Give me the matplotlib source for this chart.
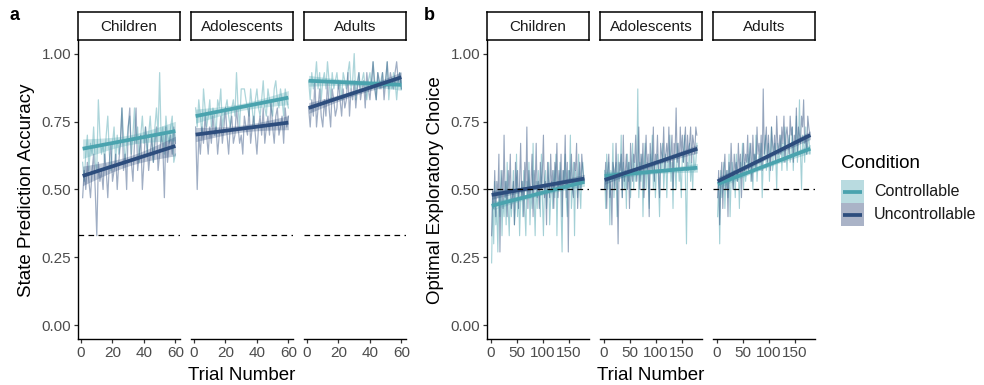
import numpy as np
import matplotlib
matplotlib.use("Agg")
import matplotlib.pyplot as plt
from matplotlib.patches import Rectangle

plt.rcParams['font.family'] = ['Liberation Sans', 'DejaVu Sans']

groups = ["Children", "Adolescents", "Adults"]
conditions = ["Controllable", "Uncontrollable"]

# ---------------- panel a: state prediction accuracy (trials 1..60) ----------------
a_children_ctrl = [0.60, 0.53, 0.63, 0.70, 0.57, 0.67, 0.63, 0.73, 0.60, 0.57, 0.83, 0.70, 0.63, 0.67, 0.60,
                   0.70, 0.77, 0.63, 0.57, 0.67, 0.73, 0.60, 0.70, 0.63, 0.67, 0.80, 0.70, 0.60, 0.67, 0.73,
                   0.77, 0.63, 0.70, 0.80, 0.67, 0.73, 0.60, 0.70, 0.77, 0.67, 0.73, 0.63, 0.70, 0.77, 0.67,
                   0.60, 0.73, 0.80, 0.70, 0.93, 0.67, 0.73, 0.63, 0.77, 0.70, 0.67, 0.73, 0.77, 0.60, 0.63]
a_children_unc = [0.47, 0.57, 0.50, 0.60, 0.53, 0.47, 0.57, 0.63, 0.50, 0.33, 0.60, 0.53, 0.57, 0.50, 0.63,
                  0.57, 0.47, 0.60, 0.67, 0.53, 0.57, 0.63, 0.50, 0.60, 0.67, 0.80, 0.57, 0.63, 0.50, 0.73,
                  0.80, 0.60, 0.53, 0.67, 0.80, 0.57, 0.63, 0.70, 0.50, 0.60, 0.73, 0.67, 0.57, 0.63, 0.70,
                  0.60, 0.67, 0.73, 0.57, 0.63, 0.70, 0.67, 0.47, 0.73, 0.60, 0.67, 0.70, 0.63, 0.73, 0.67]
a_adol_ctrl = [0.80, 0.73, 0.83, 0.77, 0.70, 0.87, 0.80, 0.73, 0.77, 0.83, 0.73, 0.80, 0.77, 0.70, 0.83,
               0.80, 0.87, 0.73, 0.77, 0.80, 0.83, 0.77, 0.73, 0.80, 0.83, 0.77, 0.93, 0.80, 0.73, 0.87,
               0.87, 0.87, 0.83, 0.80, 0.77, 0.87, 0.80, 0.73, 0.83, 0.87, 0.80, 0.77, 0.83, 0.90, 0.80,
               0.77, 0.87, 0.83, 0.80, 0.77, 0.87, 0.90, 0.83, 0.80, 0.87, 0.83, 0.77, 0.87, 0.83, 0.80]
a_adol_unc = [0.73, 0.50, 0.70, 0.63, 0.73, 0.67, 0.77, 0.70, 0.63, 0.73, 0.67, 0.77, 0.70, 0.73, 0.63,
              0.70, 0.77, 0.67, 0.73, 0.80, 0.70, 0.63, 0.73, 0.77, 0.67, 0.70, 0.80, 0.73, 0.67, 0.70,
              0.63, 0.77, 0.73, 0.70, 0.80, 0.67, 0.73, 0.77, 0.70, 0.63, 0.73, 0.77, 0.70, 0.80, 0.67,
              0.73, 0.77, 0.70, 0.83, 0.73, 0.67, 0.77, 0.80, 0.70, 0.73, 0.77, 0.67, 0.80, 0.73, 0.77]
a_adult_ctrl = [0.90, 0.83, 0.93, 0.87, 0.90, 0.97, 0.87, 0.93, 0.83, 0.90, 0.93, 0.87, 0.97, 0.90, 0.83,
                0.93, 0.87, 0.90, 0.93, 0.87, 0.90, 0.83, 0.93, 0.90, 0.87, 0.93, 0.97, 0.87, 0.90, 1.00,
                0.83, 0.90, 0.93, 0.87, 0.90, 0.93, 0.87, 0.83, 0.90, 0.93, 0.87, 0.97, 0.90, 0.83, 0.93,
                0.87, 0.90, 0.93, 0.87, 0.90, 0.97, 0.83, 0.90, 0.87, 0.93, 0.90, 0.83, 0.90, 0.93, 0.87]
a_adult_unc = [0.80, 0.73, 0.83, 0.77, 0.90, 0.73, 0.80, 0.87, 0.77, 0.73, 0.83, 0.77, 0.90, 0.80, 0.73,
               0.87, 0.83, 0.77, 0.80, 0.90, 0.83, 0.77, 0.87, 0.80, 0.83, 0.93, 0.77, 0.87, 0.83, 0.90,
               0.80, 0.87, 0.93, 0.83, 0.87, 0.90, 0.80, 0.93, 0.87, 0.83, 0.90, 0.97, 0.87, 0.83, 0.93,
               0.90, 0.87, 0.93, 0.83, 0.90, 0.97, 0.87, 0.93, 0.90, 0.87, 0.93, 0.97, 0.90, 0.93, 0.87]

# fitted linear trend (value at first trial, value at last trial) and CI half-width at centre
a_ctrl_fit = [(0.650, 0.715), (0.770, 0.838), (0.900, 0.885)]
a_unc_fit = [(0.550, 0.660), (0.702, 0.746), (0.800, 0.913)]
a_ctrl_ci = [0.018, 0.013, 0.010]
a_unc_ci = [0.018, 0.013, 0.010]

# ---------------- panel b: optimal exploratory choice (trials 1..180, every 2nd) ----------------
b_children_ctrl = [0.23, 0.47, 0.30, 0.53, 0.37, 0.43, 0.27, 0.50, 0.40, 0.57, 0.33, 0.47, 0.40, 0.53, 0.37,
                   0.60, 0.43, 0.33, 0.50, 0.40, 0.47, 0.57, 0.37, 0.43, 0.63, 0.40, 0.50, 0.33, 0.47, 0.53,
                   0.40, 0.57, 0.43, 0.33, 0.53, 0.47, 0.60, 0.37, 0.50, 0.43, 0.67, 0.47, 0.33, 0.53, 0.43,
                   0.57, 0.50, 0.40, 0.63, 0.47, 0.33, 0.53, 0.57, 0.43, 0.50, 0.60, 0.37, 0.47, 0.53, 0.43,
                   0.57, 0.47, 0.63, 0.33, 0.53, 0.50, 0.60, 0.43, 0.27, 0.57, 0.50, 0.63, 0.47, 0.40, 0.57,
                   0.53, 0.70, 0.43, 0.50, 0.60, 0.33, 0.57, 0.53, 0.47, 0.63, 0.50, 0.43, 0.57, 0.60, 0.53]
b_children_unc = [0.33, 0.50, 0.43, 0.57, 0.40, 0.53, 0.47, 0.63, 0.27, 0.50, 0.57, 0.43, 0.70, 0.47, 0.53,
                  0.40, 0.57, 0.50, 0.63, 0.43, 0.47, 0.53, 0.37, 0.60, 0.50, 0.57, 0.43, 0.53, 0.67, 0.47,
                  0.53, 0.40, 0.60, 0.50, 0.73, 0.43, 0.57, 0.47, 0.53, 0.63, 0.40, 0.57, 0.50, 0.67, 0.47,
                  0.53, 0.43, 0.60, 0.50, 0.57, 0.70, 0.47, 0.53, 0.37, 0.60, 0.53, 0.47, 0.63, 0.50, 0.57,
                  0.43, 0.60, 0.53, 0.67, 0.47, 0.57, 0.50, 0.63, 0.40, 0.57, 0.53, 0.70, 0.47, 0.60, 0.27,
                  0.57, 0.53, 0.63, 0.50, 0.47, 0.60, 0.57, 0.67, 0.43, 0.53, 0.60, 0.50, 0.63, 0.57, 0.53]
b_adol_ctrl = [0.57, 0.43, 0.63, 0.50, 0.60, 0.37, 0.57, 0.53, 0.67, 0.47, 0.57, 0.60, 0.40, 0.63, 0.53,
               0.57, 0.70, 0.47, 0.60, 0.50, 0.57, 0.43, 0.63, 0.53, 0.60, 0.47, 0.57, 0.67, 0.50, 0.60,
               0.53, 0.57, 0.87, 0.47, 0.60, 0.53, 0.63, 0.40, 0.57, 0.67, 0.50, 0.60, 0.53, 0.43, 0.63,
               0.57, 0.70, 0.50, 0.60, 0.47, 0.57, 0.63, 0.53, 0.40, 0.60, 0.57, 0.67, 0.50, 0.57, 0.63,
               0.47, 0.60, 0.57, 0.70, 0.53, 0.60, 0.43, 0.63, 0.57, 0.50, 0.67, 0.60, 0.53, 0.57, 0.47,
               0.63, 0.60, 0.70, 0.53, 0.30, 0.60, 0.57, 0.67, 0.53, 0.60, 0.50, 0.63, 0.57, 0.60, 0.67]
b_adol_unc = [0.50, 0.60, 0.43, 0.57, 0.63, 0.47, 0.53, 0.37, 0.60, 0.57, 0.50, 0.67, 0.53, 0.30, 0.60,
              0.57, 0.63, 0.47, 0.70, 0.53, 0.57, 0.63, 0.50, 0.60, 0.43, 0.67, 0.57, 0.53, 0.63, 0.60,
              0.70, 0.53, 0.60, 0.73, 0.50, 0.63, 0.57, 0.67, 0.47, 0.60, 0.70, 0.57, 0.63, 0.40, 0.67,
              0.60, 0.57, 0.73, 0.53, 0.63, 0.60, 0.70, 0.57, 0.47, 0.67, 0.63, 0.60, 0.73, 0.57, 0.63,
              0.67, 0.60, 0.73, 0.57, 0.63, 0.70, 0.50, 0.67, 0.63, 0.80, 0.60, 0.67, 0.57, 0.73, 0.63,
              0.70, 0.60, 0.67, 0.73, 0.57, 0.70, 0.63, 0.67, 0.73, 0.60, 0.70, 0.67, 0.63, 0.73, 0.70]
b_adult_ctrl = [0.40, 0.53, 0.30, 0.57, 0.47, 0.50, 0.60, 0.43, 0.53, 0.57, 0.47, 0.63, 0.40, 0.53, 0.60,
                0.50, 0.57, 0.47, 0.63, 0.53, 0.57, 0.43, 0.60, 0.57, 0.67, 0.50, 0.60, 0.53, 0.57, 0.63,
                0.57, 0.67, 0.53, 0.60, 0.50, 0.63, 0.57, 0.70, 0.53, 0.60, 0.63, 0.57, 0.67, 0.47, 0.60,
                0.63, 0.70, 0.57, 0.60, 0.67, 0.53, 0.63, 0.73, 0.57, 0.60, 0.67, 0.63, 0.50, 0.67, 0.60,
                0.63, 0.70, 0.57, 0.67, 0.60, 0.73, 0.63, 0.57, 0.67, 0.70, 0.60, 0.63, 0.73, 0.57, 0.67,
                0.63, 0.77, 0.60, 0.67, 0.83, 0.63, 0.50, 0.70, 0.67, 0.60, 0.73, 0.63, 0.67, 0.70, 0.63]
b_adult_unc = [0.47, 0.57, 0.37, 0.53, 0.60, 0.43, 0.57, 0.63, 0.50, 0.57, 0.40, 0.60, 0.53, 0.67, 0.57,
               0.50, 0.63, 0.57, 0.60, 0.53, 0.67, 0.57, 0.63, 0.47, 0.60, 0.67, 0.57, 0.63, 0.60, 0.70,
               0.57, 0.63, 0.67, 0.53, 0.70, 0.60, 0.63, 0.57, 0.73, 0.63, 0.67, 0.60, 0.70, 0.57, 0.87,
               0.63, 0.67, 0.73, 0.60, 0.70, 0.63, 0.57, 0.73, 0.67, 0.63, 0.70, 0.60, 0.77, 0.67, 0.63,
               0.70, 0.63, 0.73, 0.67, 0.77, 0.60, 0.70, 0.73, 0.67, 0.63, 0.77, 0.70, 0.73, 0.60, 0.70,
               0.67, 0.80, 0.63, 0.73, 0.70, 0.67, 0.77, 0.73, 0.83, 0.67, 0.70, 0.63, 0.77, 0.73, 0.70]

b_ctrl_fit = [(0.440, 0.528), (0.550, 0.580), (0.520, 0.650)]
b_unc_fit = [(0.480, 0.540), (0.535, 0.650), (0.530, 0.700)]
b_ctrl_ci = [0.008, 0.008, 0.008]
b_unc_ci = [0.008, 0.008, 0.008]

a_ticks_x = [0, 20, 40, 60]
b_ticks_x = [0, 50, 100, 150]
y_ticks = [0.00, 0.25, 0.50, 0.75, 1.00]
a_chance = 1 / 3
b_chance = 0.5

# ---------------- styling ----------------
COL = {"Controllable": "#4aa3ae", "Uncontrollable": "#2d4d7d"}
FILL = {"Controllable": "#b9dbe0", "Uncontrollable": "#aab3c7"}
TICKCOL = "#4d4d4d"

W, H = 984, 385
fig = plt.figure(figsize=(W / 100, H / 100), dpi=100)


def px_axes(left, top, width, height):
    return fig.add_axes([left / W, 1 - (top + height) / H, width / W, height / H])


def draw_panel(lefts, series, fits, cis, step, n_trials, xticks, chance, ylabel, ylabel_x, tag, tag_x,
               thin_lw, thin_alpha):
    for gi, left in enumerate(lefts):
        ax = px_axes(left, 40, 102, 299)
        pad = 0.05 * (n_trials - 1)
        ax.set_xlim(1 - pad, n_trials + pad)
        ax.set_ylim(-0.05, 1.05)
        # thin per-trial lines
        for cond in conditions:
            vals = np.array(series[cond][gi])
            x = 1 + step * np.arange(len(vals))
            ax.plot(x, vals, color=COL[cond], alpha=thin_alpha, lw=thin_lw, zorder=2)
        # fitted trends + ribbons
        for cond in conditions:
            y0, y1 = fits[cond][gi]
            xs = np.linspace(1, n_trials, 80)
            ys = y0 + (y1 - y0) * (xs - 1) / (n_trials - 1)
            u = (xs - (1 + n_trials) / 2) / ((n_trials - 1) / 2)
            hw = cis[cond][gi] * np.sqrt(1 + 3 * u ** 2)
            ax.fill_between(xs, ys - hw, ys + hw, color=COL[cond], alpha=0.30, lw=0, zorder=3)
        for cond in conditions:
            y0, y1 = fits[cond][gi]
            ax.plot([1, n_trials], [y0, y1], color=COL[cond], lw=2.7, zorder=4,
                    solid_capstyle='butt')
        ax.axhline(chance, color="black", lw=0.9, ls=(0, (4.5, 3.5)), zorder=5)
        for s in ["top", "right"]:
            ax.spines[s].set_visible(False)
        ax.spines["bottom"].set_linewidth(1.0)
        ax.spines["left"].set_linewidth(1.0)
        ax.set_xticks(xticks)
        ax.set_xticklabels([str(t) for t in xticks], fontsize=11, color=TICKCOL)
        ax.tick_params(axis="both", length=3, width=0.9, color="#333333", pad=2)
        if gi == 0:
            ax.set_yticks(y_ticks)
            ax.set_yticklabels([f"{t:.2f}" for t in y_ticks], fontsize=11, color=TICKCOL)
        else:
            ax.spines["left"].set_visible(False)
            ax.set_yticks([])
        # strip
        sax = px_axes(left, 12, 102, 28)
        sax.set_xticks([]); sax.set_yticks([])
        for s in sax.spines.values():
            s.set_linewidth(1.1)
            s.set_color("black")
        sax.text(0.5, 0.47, groups[gi], ha="center", va="center", fontsize=11, color="#1a1a1a",
                 transform=sax.transAxes)
    fig.text(ylabel_x / W, 1 - 190 / H, ylabel, rotation=90, ha="center", va="center", fontsize=13.5)
    fig.text((lefts[0] + lefts[-1] + 102) / 2 / W, 1 - 376 / H, "Trial Number", ha="center",
             va="center", fontsize=13.5)
    fig.text(tag_x / W, 1 - 15 / H, tag, ha="left", va="center", fontsize=13, fontweight="bold")


a_series = {"Controllable": [a_children_ctrl, a_adol_ctrl, a_adult_ctrl],
            "Uncontrollable": [a_children_unc, a_adol_unc, a_adult_unc]}
a_fits = {"Controllable": a_ctrl_fit, "Uncontrollable": a_unc_fit}
a_cis = {"Controllable": a_ctrl_ci, "Uncontrollable": a_unc_ci}
b_series = {"Controllable": [b_children_ctrl, b_adol_ctrl, b_adult_ctrl],
            "Uncontrollable": [b_children_unc, b_adol_unc, b_adult_unc]}
b_fits = {"Controllable": b_ctrl_fit, "Uncontrollable": b_unc_fit}
b_cis = {"Controllable": b_ctrl_ci, "Uncontrollable": b_unc_ci}

draw_panel([78, 191, 304], a_series, a_fits, a_cis, 1, 60, a_ticks_x, a_chance,
           "State Prediction Accuracy", 27, "a", 10, 0.9, 0.45)
draw_panel([487, 600, 713], b_series, b_fits, b_cis, 2, 180, b_ticks_x, b_chance,
           "Optimal Exploratory Choice", 436, "b", 424, 0.8, 0.5)

# ---------------- legend ----------------
lax = px_axes(835, 145, 149, 95)
lax.set_xlim(835, 984)
lax.set_ylim(240, 145)
lax.axis("off")
lax.text(841, 163, "Condition", fontsize=13.5, ha="left", va="center")
for i, cond in enumerate(conditions):
    top = 180 + 23 * i
    lax.add_patch(Rectangle((841, top), 23, 23, facecolor=FILL[cond], edgecolor="none"))
    lax.plot([843, 862], [top + 11.5, top + 11.5], color=COL[cond], lw=2.7, solid_capstyle='butt')
    lax.text(874, top + 11.5, cond, fontsize=11.5, ha="left", va="center", color="#1a1a1a")

fig.savefig("out.png", dpi=100)
